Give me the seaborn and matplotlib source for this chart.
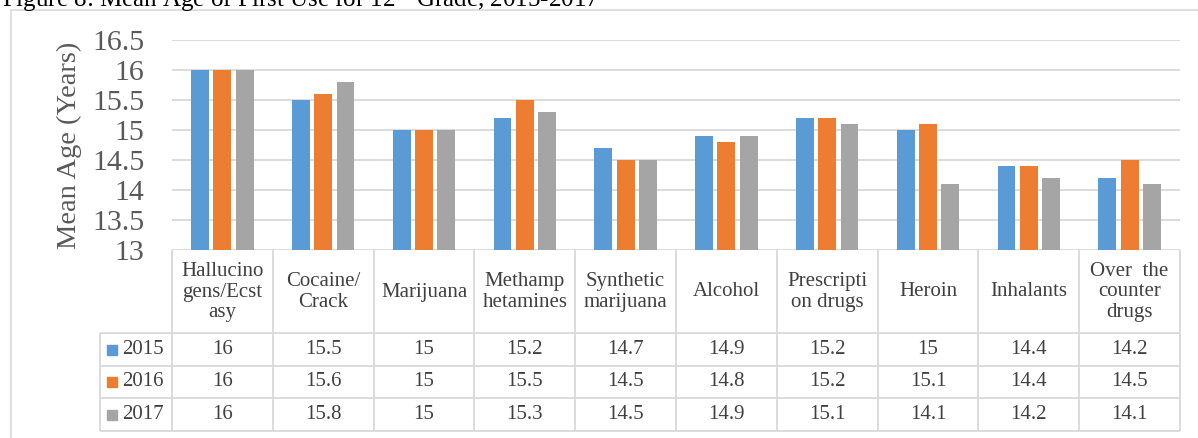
import numpy as np
import pandas as pd
import matplotlib
matplotlib.use("Agg")
import matplotlib.pyplot as plt
import seaborn as sns
from matplotlib.transforms import blended_transform_factory
from matplotlib.patches import Rectangle

# ---------------- data ----------------
categories = ["Hallucinogens/Ecstasy", "Cocaine/Crack", "Marijuana", "Methamphetamines",
              "Synthetic marijuana", "Alcohol", "Prescription drugs", "Heroin",
              "Inhalants", "Over the counter drugs"]
header_labels = ["Hallucino\ngens/Ecst\nasy", "Cocaine/\nCrack", "Marijuana", "Methamp\nhetamines",
                 "Synthetic\nmarijuana", "Alcohol", "Prescripti\non drugs", "Heroin",
                 "Inhalants", "Over  the\ncounter\ndrugs"]
years = ["2015", "2016", "2017"]
values_2015 = [16, 15.5, 15, 15.2, 14.7, 14.9, 15.2, 15, 14.4, 14.2]
values_2016 = [16, 15.6, 15, 15.5, 14.5, 14.8, 15.2, 15.1, 14.4, 14.5]
values_2017 = [16, 15.8, 15, 15.3, 14.5, 14.9, 15.1, 14.1, 14.2, 14.1]
y_ticks = [13, 13.5, 14, 14.5, 15, 15.5, 16, 16.5]
y_tick_labels = ["13", "13.5", "14", "14.5", "15", "15.5", "16", "16.5"]
colors = ["#5B9BD5", "#ED7D31", "#A5A5A5"]
title = r"Figure 8: Mean Age of First Use for 12$^{\mathrm{th}}$ Grade, 2015-2017"
y_label = "Mean Age (Years)"

series = [values_2015, values_2016, values_2017]
df = pd.DataFrame({
    "category": np.repeat([categories], 3, axis=0).ravel(),
    "year": np.repeat(years, len(categories)),
    "age": np.concatenate(series),
})

# ---------------- style ----------------
plt.rcParams["font.family"] = ["Liberation Serif", "DejaVu Serif"]
plt.rcParams["mathtext.fontset"] = "stix"

W, H = 1198, 438
fig = plt.figure(figsize=(W / 100, H / 100), dpi=100)
ax = fig.add_axes([172 / W, 1 - 250 / H, (1180 - 172) / W, 210 / H])

sns.barplot(data=df, x="category", y="age", hue="year", order=categories,
            hue_order=years, palette=colors, width=0.665, gap=0.2,
            linewidth=0, saturation=1, legend=False, ax=ax)

ax.set_ylim(y_ticks[0], y_ticks[-1])
ax.set_xlim(-0.5, len(categories) - 0.5)
ax.set_yticks(y_ticks)
ax.set_yticklabels(y_tick_labels)
ax.tick_params(axis="y", length=0, pad=20, labelsize=21.5, labelcolor="#595959")
ax.set_xticks([])
ax.set_xlabel("")
ax.set_ylabel(y_label, fontsize=20.5, color="#595959", labelpad=7)
for s in ax.spines.values():
    s.set_visible(False)
ax.yaxis.grid(True, color="#D9D9D9", lw=1.3)
ax.set_axisbelow(True)

# ---------------- data table ----------------
grid_c = "#D9D9D9"
text_c = "#404040"
tr = blended_transform_factory(ax.transData, ax.transAxes)


def ya(p):
    return (250 - p) / 210


def xa(p):
    return (p - 172) / 1008


row_lines = [333, 366, 398, 431]
row_centers = [349.5, 382, 414.5]
n = len(categories)
for k in range(n + 1):
    ax.plot([k - 0.5, k - 0.5], [ya(250), ya(431)], transform=tr, clip_on=False,
            color=grid_c, lw=1.3, solid_capstyle="butt")
for p in row_lines:
    ax.plot([xa(100), 1], [ya(p), ya(p)], transform=ax.transAxes, clip_on=False,
            color=grid_c, lw=1.3, solid_capstyle="butt")
ax.plot([xa(100), xa(100)], [ya(333), ya(431)], transform=ax.transAxes, clip_on=False,
        color=grid_c, lw=1.3, solid_capstyle="butt")

for i, lab in enumerate(header_labels):
    ax.text(i, ya(292), lab, transform=tr, ha="center", va="center",
            fontsize=15, color=text_c, linespacing=1.1)

for r, (yr, vals, col) in enumerate(zip(years, series, colors)):
    yc = ya(row_centers[r])
    ax.plot([xa(112)], [yc], marker="s", ms=7.2, color=col, transform=ax.transAxes,
            clip_on=False, linestyle="none")
    ax.text(xa(122), yc, yr, transform=ax.transAxes, ha="left", va="center",
            fontsize=15, color=text_c)
    for i, v in enumerate(vals):
        ax.text(i, yc, f"{v:g}", transform=tr, ha="center", va="center",
                fontsize=15, color=text_c)

# ---------------- frame & title ----------------
fig.add_artist(Rectangle((10.5 / W, -1), 2, 1 + (1 - 9.5 / H), transform=fig.transFigure,
                         fill=False, ec="#D9D9D9", lw=1.2))
fig.text(2 / W, 1 - 6.5 / H, title, ha="left", va="baseline", fontsize=18, color="black")

fig.savefig("out.png", dpi=100)
